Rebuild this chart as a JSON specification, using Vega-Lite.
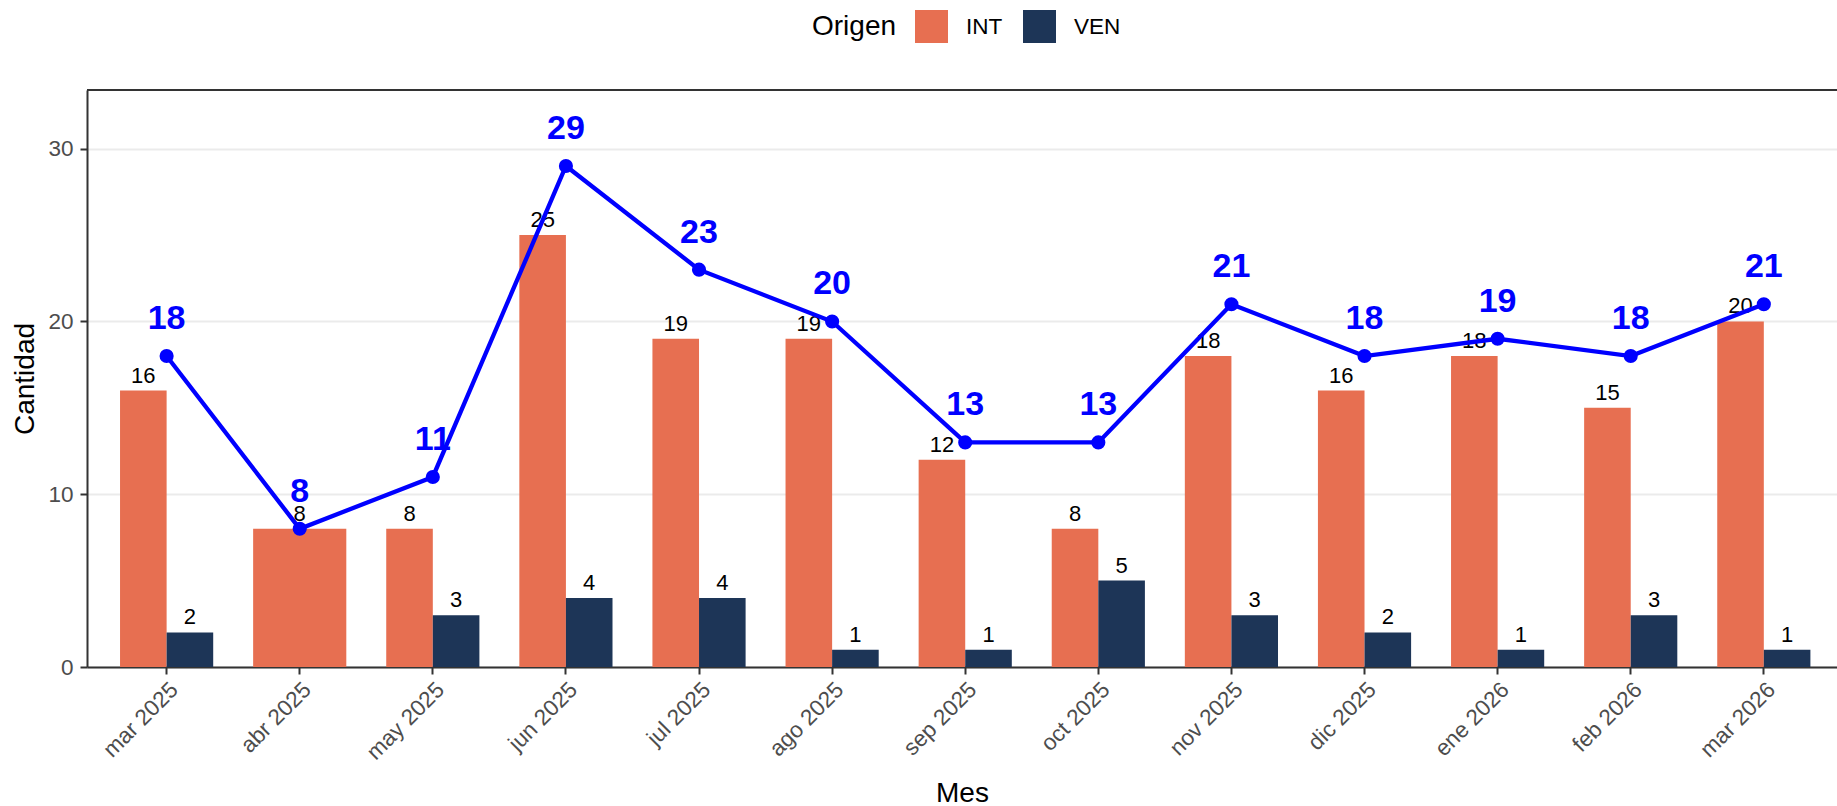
{
  "$schema": "https://vega.github.io/schema/vega-lite/v6.json",
  "width": 1750,
  "height": 577,
  "autosize": {"type": "none"},
  "padding": {"left": 87, "top": 90, "right": 0, "bottom": 139},
  "background": "white",
  "config": {
    "font": "Liberation Sans",
    "view": {"stroke": null},
    "axis": {
      "domain": true,
      "domainColor": "#333333",
      "domainWidth": 2,
      "labelFont": "Liberation Sans",
      "labelFontSize": 22.5,
      "labelColor": "#4D4D4D",
      "tickColor": "#333333",
      "tickWidth": 2,
      "tickSize": 7,
      "titleFont": "Liberation Sans",
      "titleFontSize": 28,
      "titleFontWeight": "normal",
      "titleColor": "black"
    }
  },
  "datasets": {
    "conteos": [
      {"Mes": "mar 2025", "Origen": "INT", "Cantidad": 16},
      {"Mes": "mar 2025", "Origen": "VEN", "Cantidad": 2},
      {"Mes": "abr 2025", "Origen": "INT", "Cantidad": 8},
      {"Mes": "may 2025", "Origen": "INT", "Cantidad": 8},
      {"Mes": "may 2025", "Origen": "VEN", "Cantidad": 3},
      {"Mes": "jun 2025", "Origen": "INT", "Cantidad": 25},
      {"Mes": "jun 2025", "Origen": "VEN", "Cantidad": 4},
      {"Mes": "jul 2025", "Origen": "INT", "Cantidad": 19},
      {"Mes": "jul 2025", "Origen": "VEN", "Cantidad": 4},
      {"Mes": "ago 2025", "Origen": "INT", "Cantidad": 19},
      {"Mes": "ago 2025", "Origen": "VEN", "Cantidad": 1},
      {"Mes": "sep 2025", "Origen": "INT", "Cantidad": 12},
      {"Mes": "sep 2025", "Origen": "VEN", "Cantidad": 1},
      {"Mes": "oct 2025", "Origen": "INT", "Cantidad": 8},
      {"Mes": "oct 2025", "Origen": "VEN", "Cantidad": 5},
      {"Mes": "nov 2025", "Origen": "INT", "Cantidad": 18},
      {"Mes": "nov 2025", "Origen": "VEN", "Cantidad": 3},
      {"Mes": "dic 2025", "Origen": "INT", "Cantidad": 16},
      {"Mes": "dic 2025", "Origen": "VEN", "Cantidad": 2},
      {"Mes": "ene 2026", "Origen": "INT", "Cantidad": 18},
      {"Mes": "ene 2026", "Origen": "VEN", "Cantidad": 1},
      {"Mes": "feb 2026", "Origen": "INT", "Cantidad": 15},
      {"Mes": "feb 2026", "Origen": "VEN", "Cantidad": 3},
      {"Mes": "mar 2026", "Origen": "INT", "Cantidad": 20},
      {"Mes": "mar 2026", "Origen": "VEN", "Cantidad": 1}
    ],
    "totales": [
      {"Mes": "mar 2025", "Total": 18},
      {"Mes": "abr 2025", "Total": 8},
      {"Mes": "may 2025", "Total": 11},
      {"Mes": "jun 2025", "Total": 29},
      {"Mes": "jul 2025", "Total": 23},
      {"Mes": "ago 2025", "Total": 20},
      {"Mes": "sep 2025", "Total": 13},
      {"Mes": "oct 2025", "Total": 13},
      {"Mes": "nov 2025", "Total": 21},
      {"Mes": "dic 2025", "Total": 18},
      {"Mes": "ene 2026", "Total": 19},
      {"Mes": "feb 2026", "Total": 18},
      {"Mes": "mar 2026", "Total": 21}
    ]
  },
  "layer": [
    {
      "data": {"name": "conteos"},
      "transform": [{"filter": "datum.Mes != 'abr 2025'"}],
      "mark": {"type": "bar"},
      "encoding": {
        "x": {
          "field": "Mes",
          "type": "nominal",
          "title": "Mes",
          "scale": {
            "domain": ["mar 2025", "abr 2025", "may 2025", "jun 2025", "jul 2025", "ago 2025", "sep 2025", "oct 2025", "nov 2025", "dic 2025", "ene 2026", "feb 2026", "mar 2026"],
            "paddingInner": 0.3,
            "paddingOuter": 0.224,
            "align": 0.554
          },
          "axis": {"labelAngle": -45, "labelAlign": "right", "labelBaseline": "top", "labelPadding": 4, "bandPosition": 0.5, "grid": false, "titleY": 134, "titleBaseline": "alphabetic"}
        },
        "xOffset": {"field": "Origen", "type": "nominal", "scale": {"domain": ["INT", "VEN"], "paddingInner": 0, "paddingOuter": 0}},
        "y": {
          "field": "Cantidad",
          "type": "quantitative",
          "title": "Cantidad",
          "scale": {"domain": [0, 33.4], "nice": false, "zero": true},
          "axis": {"values": [0, 10, 20, 30], "grid": true, "gridColor": "#EBEBEB", "gridWidth": 2, "labelPadding": 7, "titlePadding": 8}
        },
        "color": {
          "field": "Origen",
          "type": "nominal",
          "title": "Origen",
          "scale": {"domain": ["INT", "VEN"], "range": ["#E76F51", "#1D3557"]},
          "legend": {
            "orient": "none",
            "legendX": 725,
            "legendY": -80,
            "direction": "horizontal",
            "titleOrient": "left",
            "titleFontSize": 28,
            "titleFontWeight": "normal",
            "titleColor": "black",
            "titlePadding": 18,
            "titleBaseline": "middle",
            "labelFontSize": 22.5,
            "labelColor": "black",
            "labelOffset": 18,
            "symbolType": "square",
            "symbolSize": 1089,
            "symbolStrokeWidth": 0,
            "symbolOpacity": 1,
            "columnPadding": 20
          }
        }
      }
    },
    {
      "data": {"name": "conteos"},
      "transform": [{"filter": "datum.Mes == 'abr 2025'"}],
      "mark": {"type": "bar"},
      "encoding": {
        "x": {"field": "Mes", "type": "nominal"},
        "y": {"field": "Cantidad", "type": "quantitative"},
        "color": {"field": "Origen", "type": "nominal"}
      }
    },
    {
      "data": {"name": "conteos"},
      "transform": [{"filter": "datum.Mes != 'abr 2025'"}],
      "mark": {"type": "text", "baseline": "alphabetic", "dy": -8, "fontSize": 22, "color": "black"},
      "encoding": {
        "x": {"field": "Mes", "type": "nominal"},
        "xOffset": {"field": "Origen", "type": "nominal"},
        "y": {"field": "Cantidad", "type": "quantitative"},
        "text": {"field": "Cantidad", "type": "quantitative"}
      }
    },
    {
      "data": {"name": "conteos"},
      "transform": [{"filter": "datum.Mes == 'abr 2025'"}],
      "mark": {"type": "text", "baseline": "alphabetic", "dy": -8, "fontSize": 22, "color": "black"},
      "encoding": {
        "x": {"field": "Mes", "type": "nominal"},
        "y": {"field": "Cantidad", "type": "quantitative"},
        "text": {"field": "Cantidad", "type": "quantitative"}
      }
    },
    {
      "data": {"values": [{}]},
      "mark": {"type": "rule", "color": "#333333", "strokeWidth": 2},
      "encoding": {"y": {"datum": 33.4}}
    },
    {
      "data": {"name": "totales"},
      "mark": {"type": "line", "color": "#0000FF", "strokeWidth": 4.3},
      "encoding": {
        "x": {"field": "Mes", "type": "nominal"},
        "y": {"field": "Total", "type": "quantitative"}
      }
    },
    {
      "data": {"name": "totales"},
      "mark": {"type": "point", "filled": true, "color": "#0000FF", "size": 200, "opacity": 1},
      "encoding": {
        "x": {"field": "Mes", "type": "nominal"},
        "y": {"field": "Total", "type": "quantitative"}
      }
    },
    {
      "data": {"name": "totales"},
      "mark": {"type": "text", "baseline": "alphabetic", "dy": -27, "fontSize": 34, "fontWeight": "bold", "color": "#0000FF"},
      "encoding": {
        "x": {"field": "Mes", "type": "nominal"},
        "y": {"field": "Total", "type": "quantitative"},
        "text": {"field": "Total", "type": "quantitative"}
      }
    }
  ]
}
